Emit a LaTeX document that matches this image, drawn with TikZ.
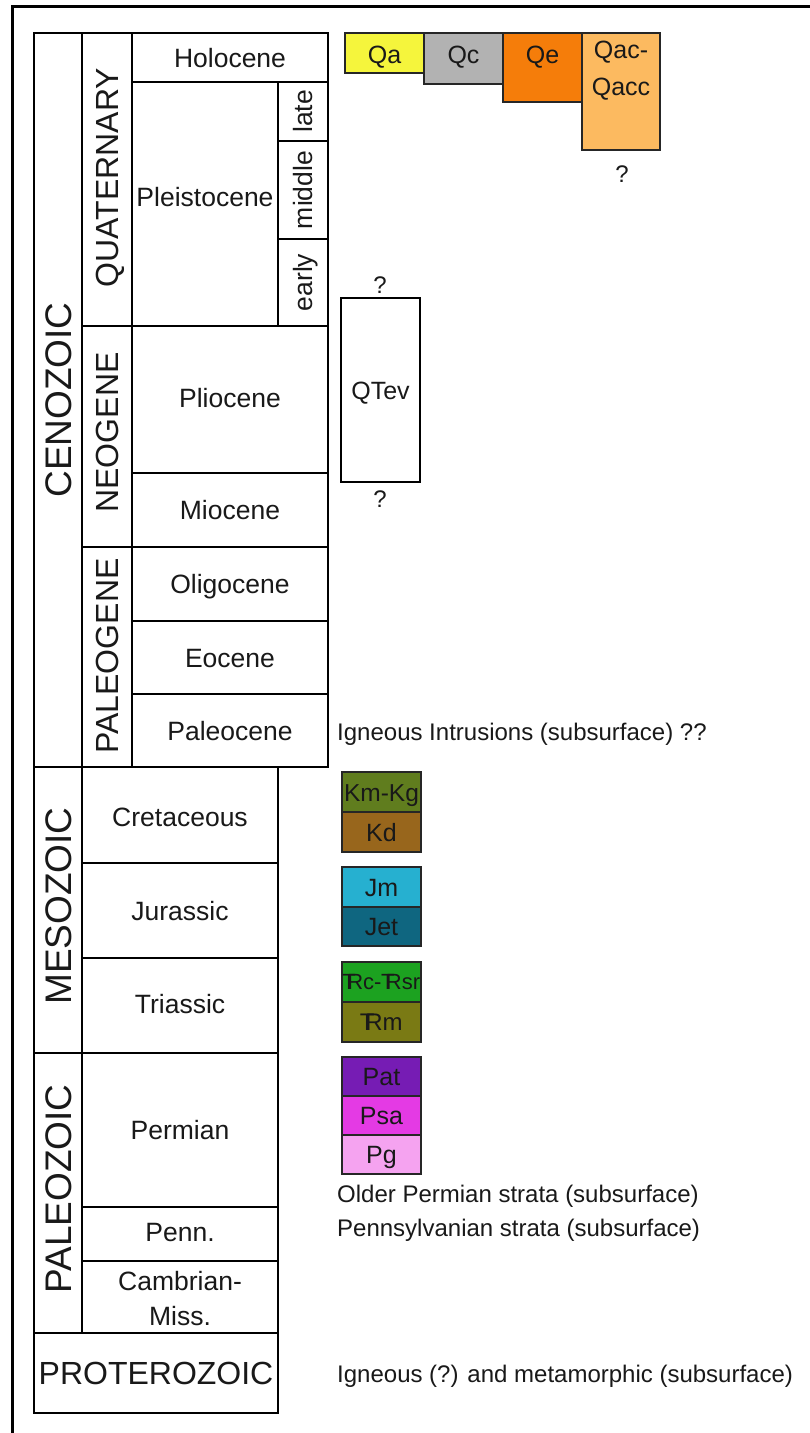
\documentclass[tikz,border=0pt]{standalone}
\usepackage{fontspec}
\setmainfont{Liberation Sans}
\definecolor{txt}{RGB}{25,25,25}
\definecolor{cQa}{RGB}{245,245,60}
\definecolor{cQc}{RGB}{178,178,178}
\definecolor{cQe}{RGB}{245,125,10}
\definecolor{cQacc}{RGB}{252,186,96}
\definecolor{cKmKg}{RGB}{96,125,30}
\definecolor{cKd}{RGB}{152,102,28}
\definecolor{cJm}{RGB}{38,176,208}
\definecolor{cJet}{RGB}{15,102,128}
\definecolor{cTrc}{RGB}{28,162,32}
\definecolor{cTrm}{RGB}{122,122,20}
\definecolor{cPat}{RGB}{118,28,180}
\definecolor{cPsa}{RGB}{228,58,228}
\definecolor{cPg}{RGB}{245,163,240}
\newcommand\fsz[2]{\fontsize{#1}{#2}\selectfont}
\newcommand\trs{\rlap{\kern-0.02em T}\kern0.2em R}
\newcommand\cellnode[6]{%
  \node[cell,#6,minimum width={(#4-#2)*1pt},minimum height={(#5-#3)*1pt}] (#1) at ({(#2+#4)/2},{(#3+#5)/2}) {};}
\tikzset{
  cell/.style={draw=black, line width=2pt, inner sep=0pt, outer sep=0pt, fill=white},
  unitbox/.style={draw=black!85, line width=2pt, inner sep=0pt, outer sep=0pt},
  frame/.style={draw=black, line width=3pt},
  lab/.style={inner sep=0pt, text=txt, font=\fsz{26.5}{32}, text height=19pt, text depth=0pt},
  era/.style={inner sep=0pt, text=txt, font=\fsz{37}{44}, text height=26.5pt, text depth=0pt, rotate=90},
  per/.style={inner sep=0pt, text=txt, font=\fsz{32}{38}, text height=23pt, text depth=0pt, rotate=90},
  sub/.style={lab, rotate=90},
  ulab/.style={inner sep=0pt, text=txt, font=\fsz{25}{30}, text height=18pt, text depth=0pt},
  side/.style={inner sep=0pt, text=txt, font=\fsz{24}{29}, anchor=base west},
  qm/.style={inner sep=0pt, text=txt, font=\fsz{24}{29}, text height=17.2pt, text depth=0pt},
}
\begin{document}
\begin{tikzpicture}[x=1pt,y=-1pt]
\useasboundingbox (0,0) rectangle (809,1433);
\fill[white] (0,0) rectangle (809,1433);
% outer frame
\coordinate (frTR) at (812,6);
\coordinate (frTL) at (12,6);
\coordinate (frBL) at (12,1436);
\draw[frame] (frTR) -- (frTL) -- (frBL);

% eras
\cellnode{cen}{34}{33}{82}{767}{}
\cellnode{mes}{34}{767}{82}{1053}{}
\cellnode{pal}{34}{1053}{82}{1333}{}
\cellnode{pro}{34}{1333}{278}{1413}{}
% Cenozoic periods
\cellnode{qua}{82}{33}{132}{326}{}
\cellnode{neo}{82}{326}{132}{547}{}
\cellnode{pag}{82}{547}{132}{767}{}
% epochs
\cellnode{hol}{132}{33}{328}{82}{}
\cellnode{ple}{132}{82}{278}{326}{}
\cellnode{late}{278}{82}{328}{141}{}
\cellnode{mid}{278}{141}{328}{239}{}
\cellnode{ear}{278}{239}{328}{326}{}
\cellnode{pli}{132}{326}{328}{473}{}
\cellnode{mio}{132}{473}{328}{547}{}
\cellnode{oli}{132}{547}{328}{621}{}
\cellnode{eoc}{132}{621}{328}{694}{}
\cellnode{pac}{132}{694}{328}{767}{}
% Mesozoic / Paleozoic periods
\cellnode{cre}{82}{767}{278}{863}{}
\cellnode{jur}{82}{863}{278}{958}{}
\cellnode{tri}{82}{958}{278}{1053}{}
\cellnode{per}{82}{1053}{278}{1207}{}
\cellnode{pen}{82}{1207}{278}{1261}{}
\cellnode{cam}{82}{1261}{278}{1333}{}

% labels
\node[era] (tcen) at (cen.center) {CENOZOIC};
\node[era] (tmes) at ([yshift=4pt]mes.center) {MESOZOIC};
\node[era] (tpal) at ([yshift=4pt]pal.center) {PALEOZOIC};
\node[lab, font=\fsz{32}{38}, text height=23pt] (tpro) at (pro.center) {PROTEROZOIC};
\node[per] (tqua) at ([yshift=2pt]qua.center) {QUATERNARY};
\node[per] (tneo) at ([yshift=4pt]neo.center) {NEOGENE};
\node[per] (tpag) at ([yshift=1pt]pag.center) {PALEOGENE};
\node[lab] (thol) at (hol.center) {Holocene};
\node[lab] (tple) at ([yshift=7pt]ple.center) {Pleistocene};
\node[sub] (tlate) at (late.center) {late};
\node[sub] (tmid) at (mid.center) {middle};
\node[sub] (tear) at (ear.center) {early};
\node[lab] (tpli) at ([yshift=2pt]pli.center) {Pliocene};
\node[lab] (tmio) at (mio.center) {Miocene};
\node[lab] (toli) at (oli.center) {Oligocene};
\node[lab] (teoc) at (eoc.center) {Eocene};
\node[lab] (tpac) at (pac.center) {Paleocene};
\node[lab] (tcre) at ([yshift=-2pt]cre.center) {Cretaceous};
\node[lab] (tjur) at (jur.center) {Jurassic};
\node[lab] (ttri) at ([yshift=2pt]tri.center) {Triassic};
\node[lab] (tper) at (per.center) {Permian};
\node[lab] (tpen) at ([yshift=2pt]pen.center) {Penn.};
\node[inner sep=0pt, text=txt, font=\fsz{26.5}{35}, align=center] (tcam) at ([yshift=-2pt]cam.center) {Cambrian-\\Miss.};

% Quaternary units
\cellnode{qa}{345}{33}{424}{73}{unitbox, fill=cQa}
\cellnode{qc}{424}{33}{503}{84}{unitbox, fill=cQc}
\cellnode{qe}{503}{33}{582}{102}{unitbox, fill=cQe}
\cellnode{qacc}{582}{33}{660}{150}{unitbox, fill=cQacc}
\node[ulab] (tqa) at (384.5,54) {Qa};
\node[ulab] (tqc) at (463.5,54) {Qc};
\node[ulab] (tqe) at (542.5,54) {Qe};
\node[ulab] (tqac) at (621,49) {Qac-};
\node[ulab] (tqacc) at (621,86) {Qacc};
\node[qm] (qm1) at (622,174) {?};

% QTev
\cellnode{qtev}{341}{298}{420}{482}{unitbox, draw=black}
\node[ulab] (tqtev) at (qtev.center) {QTev};
\node[qm] (qm2) at (380,285) {?};
\node[qm] (qm3) at (380,499) {?};

% Cretaceous units
\cellnode{kmkg}{342}{772}{421}{812}{unitbox, fill=cKmKg}
\cellnode{kd}{342}{812}{421}{852}{unitbox, fill=cKd}
\node[ulab, font=\fsz{24.5}{30}] (tkmkg) at (kmkg.center) {Km-Kg};
\node[ulab] (tkd) at (kd.center) {Kd};
% Jurassic units
\cellnode{jm}{342}{867}{421}{907}{unitbox, fill=cJm}
\cellnode{jet}{342}{907}{421}{946}{unitbox, fill=cJet}
\node[ulab] (tjm) at (jm.center) {Jm};
\node[ulab] (tjet) at (jet.center) {Jet};
% Triassic units
\cellnode{trc}{342}{962}{421}{1002}{unitbox, fill=cTrc}
\cellnode{trm}{342}{1002}{421}{1042}{unitbox, fill=cTrm}
\node[ulab, font=\fsz{22}{26}, text height=15.8pt] (ttrc) at (trc.center) {\trs c-\trs sr};
\node[ulab, font=\fsz{24}{29}, text height=17.2pt] (ttrm) at (trm.center) {\trs m};
% Permian units
\cellnode{pat}{342}{1057}{421}{1096}{unitbox, fill=cPat}
\cellnode{psa}{342}{1096}{421}{1135}{unitbox, fill=cPsa}
\cellnode{pg}{342}{1135}{421}{1174}{unitbox, fill=cPg}
\node[ulab] (tpat) at (pat.center) {Pat};
\node[ulab] (tpsa) at (psa.center) {Psa};
\node[ulab] (tpg) at (pg.center) {Pg};

% side notes
\node[side] (n1) at (337,740) {Igneous Intrusions (subsurface) ??};
\node[side] (n2) at (337,1202) {Older Permian strata (subsurface)};
\node[side] (n3) at (337,1236) {Pennsylvanian strata (subsurface)};
\node[side] (n4) at (337,1382) {Igneous (?) and metamorphic (subsurface)};
\end{tikzpicture}
\end{document}
